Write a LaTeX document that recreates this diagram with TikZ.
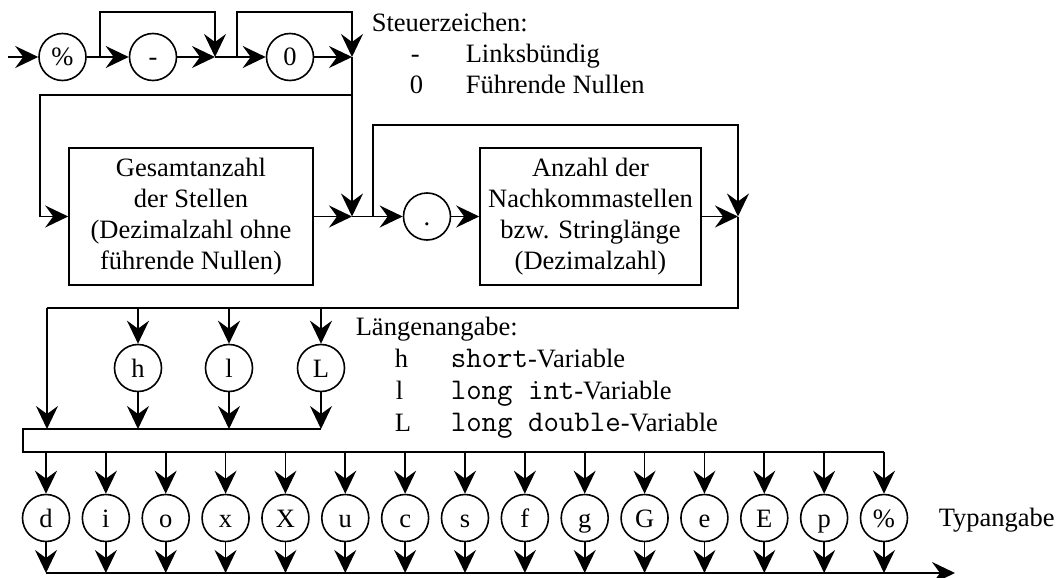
\documentclass[tikz,border=0pt]{standalone}
\usepackage{fontspec}
\setmainfont{Liberation Serif}
\usetikzlibrary{arrows.meta}
\newcommand{\mytt}[1]{{\fontsize{30}{31}\selectfont\ttfamily #1}}
\begin{document}
\begin{tikzpicture}[x=1pt,y=-1pt,line width=1.6pt,
  every node/.style={font=\fontsize{26.5}{31}\selectfont},
  circ/.style={draw,circle,minimum size=47pt,inner sep=0pt,text height=18pt,text depth=0pt},
  boxa/.style={draw,minimum width=244pt,minimum height=137pt,align=center,inner sep=0pt},
  boxb/.style={draw,minimum width=221pt,minimum height=137pt,align=center,inner sep=0pt},
  arr/.style={-{Stealth[length=23pt,width=22pt,inset=8pt]}},
  lbl/.style={anchor=base west,inner sep=0pt}]
\useasboundingbox (0,0) rectangle (1063,578);

% ---- top row
\coordinate (start) at (8,57);
\node[circ] (pct) at (62.5,57) {\%};
\node[circ] (minus) at (153,57) {-};
\node[circ] (zero) at (290,57) {0};
\coordinate (b1) at (100,57);
\coordinate (m1) at (215,57);
\coordinate (b2) at (237,57);
\coordinate (m2) at (352,57);
\coordinate (c1) at (352,95);
\coordinate (c2) at (40,95);

\draw[arr] (start) -- (pct);
\draw (pct) -- (b1);
\draw[arr] (b1) -- (minus);
\draw[arr] (minus) -- (m1);
\draw[arr] (b1) -- ++(0,-45) -| (m1);
\draw (m1) -- (b2);
\draw[arr] (b2) -- (zero);
\draw[arr] (zero) -- (m2);
\draw[arr] (b2) -- ++(0,-45) -| (m2);

% ---- legend 1
\node[lbl] (st) at (371,32) {Steuerzeichen:};
\node[lbl] (s1a) at (410,63) {-};
\node[lbl] (s1b) at (465,63) {Linksbündig};
\node[lbl] (s2a) at (409,93) {0};
\node[lbl] (s2b) at (465,93) {Führende Nullen};

% ---- boxes row
\node[boxa] (box1) at (191,216.5) {Gesamtanzahl\\der Stellen\\(Dezimalzahl ohne\\führende Nullen)};
\node[boxb] (box2) at (590.5,216.5) {Anzahl der\\Nachkommastellen\\bzw. Stringlänge\\(Dezimalzahl)};
\node[circ] (dot) at (427,216.5) {.};
\coordinate (m3) at (352,216.5);
\coordinate (b3) at (373,216.5);
\coordinate (m4) at (738,216.5);

\draw[arr] (m2) -- (m3);
\draw[arr] (c1) -- (c2) |- (box1);
\draw[arr] (box1) -- (m3);
\draw (m3) -- (b3);
\draw[arr] (b3) -- (dot);
\draw[arr] (dot) -- (box2);
\draw[arr] (box2) -- (m4);
\draw[arr] (b3) -- (373,125) -| (m4);

% ---- length modifiers
\coordinate (r0) at (47,308);
\coordinate (rh) at (138,308);
\coordinate (rl) at (229,308);
\coordinate (rL) at (321,308);
\coordinate (q0) at (47,429);
\coordinate (qh) at (138,429);
\coordinate (ql) at (229,429);
\coordinate (qL) at (321,429);
\node[circ] (hh) at (138,368) {h};
\node[circ] (ll) at (229,368) {l};
\node[circ] (LL) at (321,368) {L};

\draw (m4) |- (r0);
\draw[arr] (r0) -- (q0);
\draw[arr] (rh) -- (hh);
\draw[arr] (rl) -- (ll);
\draw[arr] (rL) -- (LL);
\draw[arr] (hh) -- (qh);
\draw[arr] (ll) -- (ql);
\draw[arr] (LL) -- (qL);

% ---- legend 2
\node[lbl] (lg) at (355,335) {Längenangabe:};
\node[lbl] (lg1a) at (394,367) {h};
\node[lbl] (lg1b) at (450,367) {\mytt{short}-Variable};
\node[lbl] (lg2a) at (395,399) {l};
\node[lbl] (lg2b) at (450,399) {\mytt{long int}-Variable};
\node[lbl] (lg3a) at (394,431) {L};
\node[lbl] (lg3b) at (450,431) {\mytt{long double}-Variable};

% ---- bar
\coordinate (bar1) at (23,429);
\coordinate (bar2) at (23,452);
\coordinate (bar3) at (884,452);
\draw (qL) -- (bar1) -- (bar2) -- (bar3);

% ---- type letters
\foreach \t [count=\i from 0] in {d,i,o,x,X,u,c,s,f,g,G,e,E,p,\%}{
  \pgfmathsetmacro{\xx}{46+59.857*\i}
  \coordinate (u\i) at (\xx,452);
  \coordinate (w\i) at (\xx,573);
  \node[circ] (t\i) at (\xx,518) {\t};
  \draw[arr] (u\i) -- (t\i);
  \draw[arr] (t\i) -- (w\i);
}
\coordinate (endarr) at (955,573);
\draw[arr] (w0) -- (endarr);
\node[lbl] (typ) at (938,526) {Typangabe};
\end{tikzpicture}
\end{document}
